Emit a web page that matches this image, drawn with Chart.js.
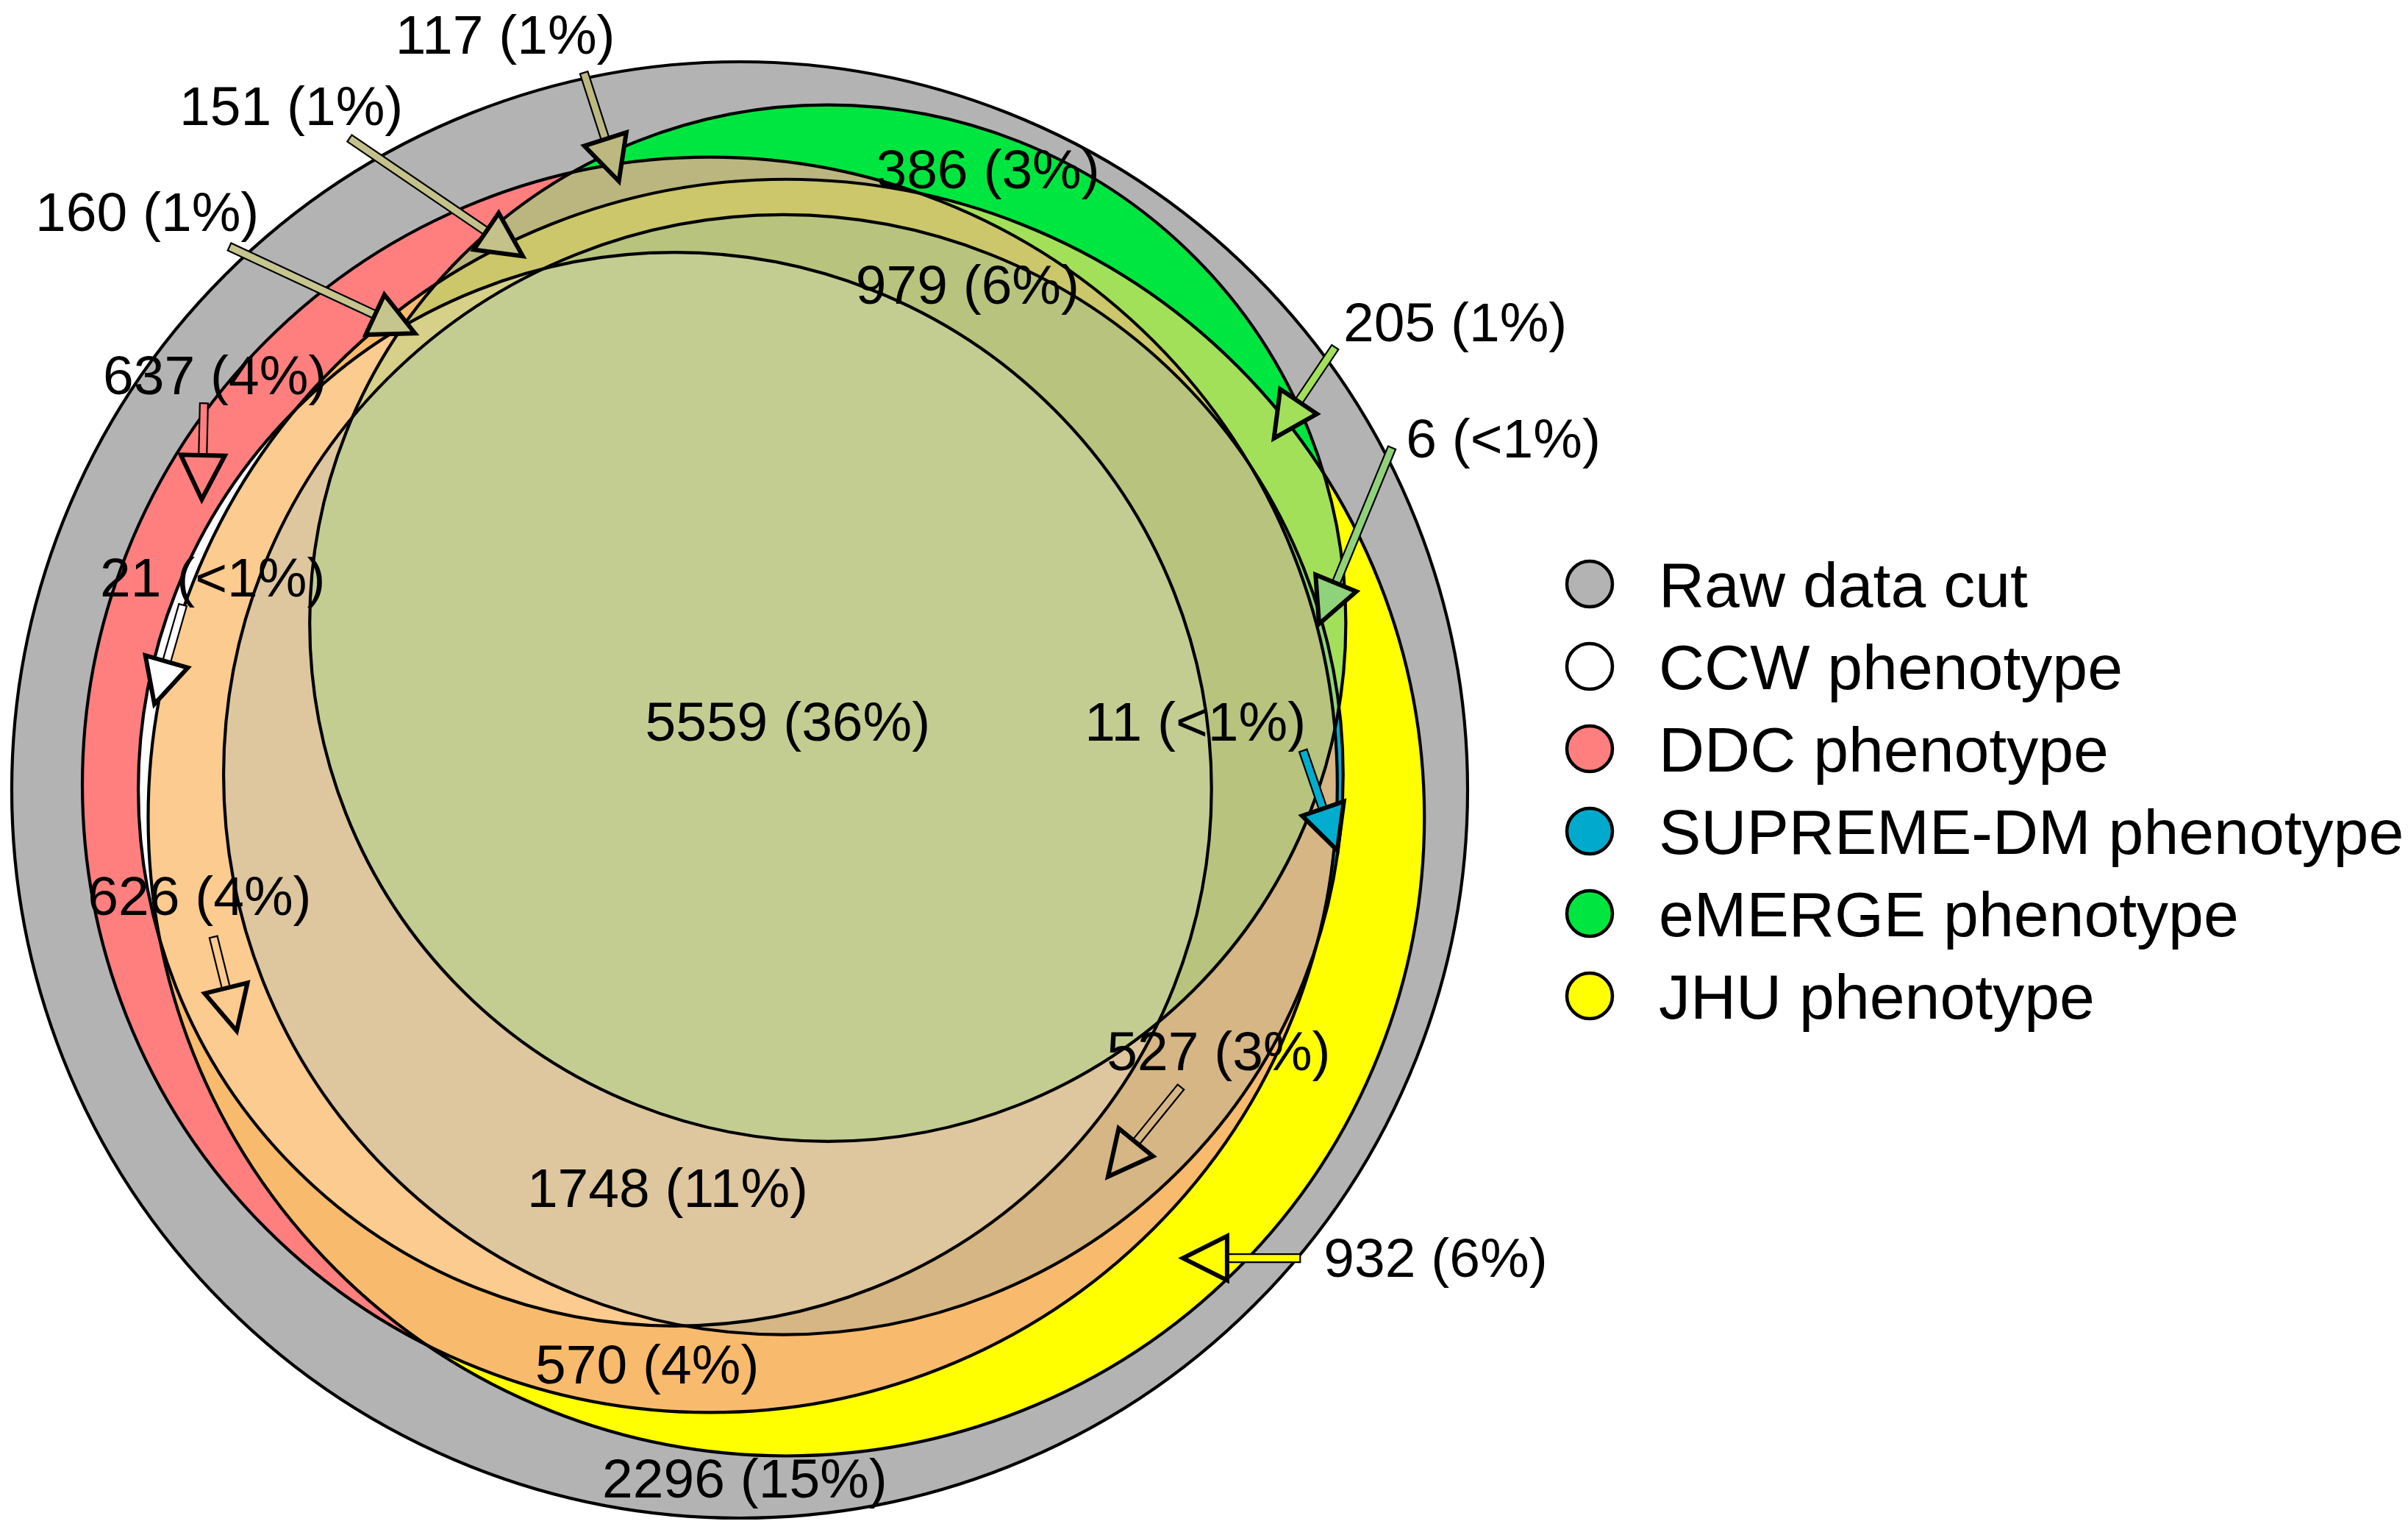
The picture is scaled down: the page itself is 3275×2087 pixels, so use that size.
<!DOCTYPE html>
<html>
<head>
<meta charset="utf-8">
<style>
html,body{margin:0;padding:0;background:#ffffff;}
#wrap{width:3275px;height:2087px;position:relative;}
canvas{display:block;}
</style>
<script src="https://cdn.jsdelivr.net/npm/chart.js"></script>
</head>
<body>
<div id="wrap"><canvas id="c" width="3275" height="2087"></canvas></div>
<script>
// ---------- data ----------
const setNames = ['Raw data cut', 'CCW phenotype', 'DDC phenotype', 'SUPREME-DM phenotype', 'eMERGE phenotype', 'JHU phenotype'];
const setFill  = ['#B3B3B3', '#FFFFFF', '#FF7F7F', '#00AACC', '#00E640', '#FFFF00'];
// fitted Euler layout: circle centres (units: raw-data-cut radius = 100)
const eulerX = [0, -8.9, -4.1, 6.0, 12.1, 6.4];
const eulerY = [0, 0.1, 0.7, 2.1, 22.9, -3.8];

// regions: count, percentage and membership (indices into setNames)
const regionCounts = [2296, 637, 21, 626, 570, 1748, 5559, 527, 932, 979, 386, 205, 6, 11, 117, 151, 160];
const regionPct    = ['15%', '4%', '<1%', '4%', '4%', '11%', '36%', '3%', '6%', '6%', '3%', '1%', '<1%', '<1%', '1%', '1%', '1%'];
const regionSets   = [
  [0], [0,2], [0,1,2], [0,1,2,5], [0,2,5], [0,1,2,3,5], [0,1,2,3,4,5], [0,2,3,5], [0,5],
  [0,2,3,4,5], [0,4], [0,4,5], [0,3,4,5], [0,3,5], [0,2,4], [0,2,4,5], [0,1,2,4,5]
];
const regionFill   = ['#B3B3B3', '#FF7F7F', '#FFFFFF', '#FCCB8F', '#F8BB6D', '#DEC69E', '#C3CD92', '#D5B684', '#FFFF00',
                      '#B8C47E', '#00E640', '#A3E05A', '#90D27A', '#00ADCE', '#BBB67F', '#CCC76A', '#D6D089'];
// label anchor for each region (same units)
const labelX = [0.7, -72.1, -72.4, -74.2, -12.7, -9.9, 6.6, 65.8, 95.6, 31.3, 34.1, 98.3, 104.9, 62.6, -32.2, -61.6, -81.4];
const labelY = [-94.5, 57.1, 29.3, -14.5, -78.8, -54.6, 9.5, -35.8, -64.2, 69.5, 85.3, 64.3, 48.4, 9.5, 103.8, 94.0, 79.5];
// leader arrows (region index, tail, tip)
const arrowRegion = [14, 15, 16, 1, 2, 3, 7, 8, 11, 12, 13];
const arrowTailX  = [-21.4, -53.6, -70.1, -73.6, -76.5, -72.3, 60.6, 77.0, 81.8, 89.6, 77.4];
const arrowTailY  = [98.5, 89.5, 74.6, 53.1, 25.4, -20.2, -40.8, -64.3, 60.8, 47.0, 5.4];
const arrowTipX   = [-16.6, -29.8, -44.6, -73.9, -80.4, -69.1, 50.6, 60.9, 73.4, 79.6, 82.1];
const arrowTipY   = [83.6, 73.3, 62.7, 39.9, 11.8, -33.1, -53.1, -64.3, 48.3, 22.8, -8.3];
const arrowFill   = ['#BDB87F', '#C4C28A', '#C6C58E', '#FF7F7F', '#FFFFFF', '#FCCB8F', '#D5B684', '#FFFF00', '#A3E05A', '#90D27A', '#00ADCE'];

// set sizes from the regions, radius proportional to sqrt(size)
const setSize = setNames.map((_, k) => regionSets.reduce((s, m, j) => s + (m.includes(k) ? regionCounts[j] : 0), 0));
const setRadius = setSize.map(s => 100 * Math.sqrt(s / setSize[0]));

// ---------- view ----------
const PXU = 9.9;            // pixels per unit
const CX = 1006, CY = 1074; // raw circle centre on the canvas
const W = 3275, H = 2087;
const X_MIN = -CX / PXU, X_MAX = (W - CX) / PXU;
const Y_MIN = -(H - CY) / PXU, Y_MAX = CY / PXU;
const FONT = "'Liberation Sans', Arial, Helvetica, sans-serif";

function pix(chart, ux, uy) {
  return [chart.scales.x.getPixelForValue(ux), chart.scales.y.getPixelForValue(uy)];
}
function pixLen(chart, u) {
  const sx = chart.scales && chart.scales.x;
  if (sx && sx.width > 0) {
    const v = Math.abs(sx.getPixelForValue(u) - sx.getPixelForValue(0));
    if (isFinite(v)) return v;
  }
  // before the scale is laid out: same linear mapping over the full chart width
  return chart.width * u / (X_MAX - X_MIN);
}

const regionPainter = {
  id: 'regionPainter',
  beforeDatasetsDraw(chart) {
    const ctx = chart.ctx;
    const circles = eulerX.map((cx, k) => {
      const [px, py] = pix(chart, cx, eulerY[k]);
      return {px, py, r: pixLen(chart, setRadius[k])};
    });
    const order = regionSets.map((m, i) => i).sort((a, b) => regionSets[a].length - regionSets[b].length);
    order.forEach(i => {
      ctx.save();
      regionSets[i].forEach(k => {
        const c = circles[k];
        ctx.beginPath();
        ctx.arc(c.px, c.py, c.r, 0, Math.PI * 2);
        ctx.clip();
      });
      ctx.fillStyle = regionFill[i];
      ctx.fillRect(0, 0, chart.width, chart.height);
      ctx.restore();
    });
  }
};

function drawArrow(ctx, x1, y1, x2, y2, fill) {
  const ang = Math.atan2(y2 - y1, x2 - x1);
  const L = Math.hypot(x2 - x1, y2 - y1);
  const headLen = 60, headW = 60, shaftW = 11;
  ctx.save();
  ctx.translate(x1, y1);
  ctx.rotate(ang);
  ctx.fillStyle = fill;
  ctx.strokeStyle = '#000000';
  ctx.lineJoin = 'miter';
  ctx.beginPath();
  ctx.rect(0, -shaftW / 2, L - headLen + 2, shaftW);
  ctx.fill();
  ctx.lineWidth = 2.2;
  ctx.stroke();
  ctx.beginPath();
  ctx.moveTo(L, 0);
  ctx.lineTo(L - headLen, -headW / 2);
  ctx.lineTo(L - headLen, headW / 2);
  ctx.closePath();
  ctx.fill();
  ctx.lineWidth = 6;
  ctx.stroke();
  ctx.restore();
}

const annotations = {
  id: 'annotations',
  afterDatasetsDraw(chart) {
    const ctx = chart.ctx;
    arrowRegion.forEach((r, i) => {
      const [x1, y1] = pix(chart, arrowTailX[i], arrowTailY[i]);
      const [x2, y2] = pix(chart, arrowTipX[i], arrowTipY[i]);
      drawArrow(ctx, x1, y1, x2, y2, arrowFill[i]);
    });
    ctx.save();
    const fs = 75;
    ctx.font = fs + 'px ' + FONT;
    ctx.fillStyle = '#000000';
    ctx.textAlign = 'center';
    ctx.textBaseline = 'alphabetic';
    regionCounts.forEach((n, i) => {
      const [x, y] = pix(chart, labelX[i], labelY[i]);
      ctx.fillText(n + ' (' + regionPct[i] + ')', x, y + 0.358 * fs);
    });
    ctx.restore();
  },
  afterDraw(chart) {
    const ctx = chart.ctx;
    const fs = 86;
    ctx.save();
    ctx.font = fs + 'px ' + FONT;
    ctx.textAlign = 'left';
    ctx.textBaseline = 'alphabetic';
    setNames.forEach((name, i) => {
      const cx = 2162, cy = 794 + 112 * i;
      ctx.beginPath();
      ctx.arc(cx, cy, 31, 0, Math.PI * 2);
      ctx.fillStyle = setFill[i];
      ctx.fill();
      ctx.lineWidth = 4.5;
      ctx.strokeStyle = '#000000';
      ctx.stroke();
      ctx.fillStyle = '#000000';
      ctx.fillText(name, 2256, cy + 0.358 * fs);
    });
    ctx.restore();
  }
};

const datasets = setNames.map((name, k) => ({
  label: name,
  data: [{x: eulerX[k], y: eulerY[k]}],
  backgroundColor: 'rgba(0,0,0,0)',
  borderColor: '#000000',
  borderWidth: 4.2,
  hoverBorderWidth: 4.2,
  hoverRadius: 0,
  radius: (ctx) => pixLen(ctx.chart, setRadius[k]),
  clip: false
}));

new Chart(document.getElementById('c'), {
  type: 'bubble',
  data: { datasets },
  options: {
    responsive: false,
    maintainAspectRatio: false,
    devicePixelRatio: 1,
    animation: false,
    events: [],
    layout: { padding: 0, autoPadding: false },
    plugins: { legend: { display: false }, tooltip: { enabled: false } },
    scales: {
      x: { type: 'linear', min: X_MIN, max: X_MAX, display: false },
      y: { type: 'linear', min: Y_MIN, max: Y_MAX, display: false }
    }
  },
  plugins: [regionPainter, annotations]
});
</script>
</body>
</html>
